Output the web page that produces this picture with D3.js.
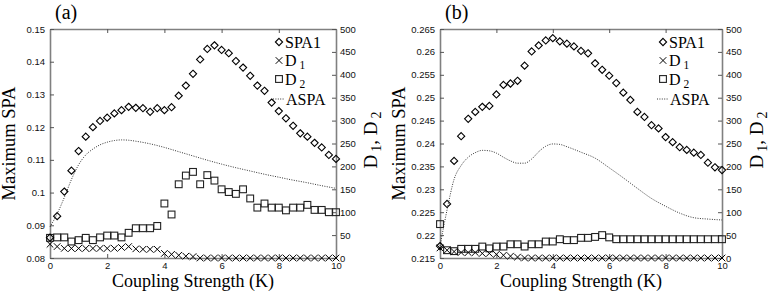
<!DOCTYPE html>
<html>
<head>
<meta charset="utf-8">
<script src="https://cdn.jsdelivr.net/npm/d3@7"></script>
<style>
  body { margin: 0; background: #fff; }
</style>
</head>
<body>
<svg id="chart"></svg>
<script>
const width = 772, height = 292;
const svg = d3.select("#chart").attr("width", width).attr("height", height);

// coupling strength samples (K)
const couplingK = [0,0.25,0.5,0.75,1,1.25,1.5,1.75,2,2.25,2.5,2.75,3,3.25,3.5,3.75,4,4.25,4.5,4.75,
  5,5.25,5.5,5.75,6,6.25,6.5,6.75,7,7.25,7.5,7.75,8,8.25,8.5,8.75,9,9.25,9.5,9.75,10];

// panel (a)
const spaA = [0.0862,0.0928,0.1003,0.1067,0.1127,0.1171,0.1200,0.1219,0.1229,0.1242,0.1252,0.1262,0.1259,0.1258,0.1247,
  0.1258,0.1252,0.1261,0.1296,0.1327,0.1363,0.1407,0.1439,0.1450,0.1436,0.1426,0.1402,0.1382,0.1357,0.1327,
  0.1311,0.1275,0.1249,0.1227,0.1204,0.1181,0.1171,0.1152,0.1138,0.1115,0.1103];
const d1A = [30,25,21,21,21,21,21,21,21,21,23,25,20,19,19,19,10,8,6,4,3,
  0,0,0,0,0,0,0,0,0,0,0,0,0,0,0,0,0,0,0,0];
const d2A = [44,45,45,36,39,44,39,45,49,49,45,55,65,65,65,70,119,95,161,180,188,161,181,169,150,144,140,150,130,110,
  119,110,110,104,110,110,116,105,105,100,100];
const aspaKA = [0,0.25,0.5,0.75,1,1.25,1.5,1.75,2,2.25,2.5,2.75,3,3.5,4,4.5,5,5.5,6,6.5,7,7.5,8,8.5,9,9.5,10];
const aspaA = [0.0895,0.0935,0.0985,0.1040,0.1085,0.1115,0.1133,0.1146,0.1154,0.1159,0.1161,0.1160,0.1157,
  0.1149,0.1138,0.1125,0.1112,0.1099,0.1087,0.1076,0.1066,0.1056,0.1047,0.1038,0.1030,0.1021,0.1013];

// panel (b)
const spaB = [0.2176,0.2268,0.2362,0.2416,0.2454,0.2469,0.2480,0.2482,0.2507,0.2528,0.2531,0.2537,0.2570,0.2601,0.2614,
  0.2625,0.2630,0.2623,0.2618,0.2612,0.2602,0.2597,0.2575,0.2561,0.2548,0.2532,0.2511,0.2495,0.2469,0.2458,
  0.2440,0.2433,0.2414,0.2403,0.2392,0.2386,0.2380,0.2375,0.2358,0.2348,0.2342];
const d1B = [22,17,14,12,12,12,10,10,8,6,4,2,
  0,0,0,0,0,0,0,0,0,0,0,0,0,0,0,0,0,0,0,0,0,0,0,0,0,0,0,0,0];
const d2B = [74,17,15,20,20,20,25,21,25,25,30,30,25,30,30,36,36,41,39,39,44,44,46,50,45,
  41,41,41,41,41,41,41,41,41,41,41,41,41,41,41,41];
const aspaKB = [0,0.25,0.5,0.75,1,1.25,1.5,1.75,2,2.25,2.5,2.75,3,3.25,3.5,3.75,4,4.25,4.5,5,5.5,6,6.5,7,7.5,8,8.5,9,9.5,10];
const aspaB = [0.2176,0.2255,0.2322,0.2352,0.2370,0.2380,0.2385,0.2384,0.2379,0.2370,0.2362,0.2357,0.2357,0.2366,0.2382,
  0.2394,0.2399,0.2398,0.2393,0.2381,0.2368,0.2347,0.2325,0.2302,0.2280,0.2263,0.2248,0.2238,0.2235,0.2233];

// tick labels
const xTicks = [0,2,4,6,8,10];
const leftTicksA = [0.08,0.09,0.1,0.11,0.12,0.13,0.14,0.15];
const leftTicksB = [0.215,0.22,0.225,0.23,0.235,0.24,0.245,0.25,0.255,0.26,0.265];
const rightTicks = [0,50,100,150,200,250,300,350,400,450,500];

const serif = "'Liberation Serif','Times New Roman',serif";
const sans = "'Liberation Sans',Arial,sans-serif";
const plotTop = 29, plotBottom = 258;

function marker(g, type, cx, cy) {
  if (type === "diamond") {
    g.append("path")
      .attr("d", `M${cx},${cy-3.6}L${cx+3.6},${cy}L${cx},${cy+3.6}L${cx-3.6},${cy}Z`)
      .attr("fill", "none").attr("stroke", "#000").attr("stroke-width", 1.1);
  } else if (type === "square") {
    g.append("rect")
      .attr("x", cx-3.4).attr("y", cy-3.4).attr("width", 6.8).attr("height", 6.8)
      .attr("fill", "none").attr("stroke", "#222").attr("stroke-width", 1.1);
  } else {
    g.append("path")
      .attr("d", `M${cx-3.3},${cy-3.3}L${cx+3.3},${cy+3.3}M${cx-3.3},${cy+3.3}L${cx+3.3},${cy-3.3}`)
      .attr("stroke", "#000").attr("stroke-width", 1);
  }
}

function drawPanel(p) {
  const g = svg.append("g");
  const x = d3.scaleLinear().domain([0, 10]).range([p.x0, p.x1]);
  const yL = d3.scaleLinear().domain(p.leftDomain).range([plotBottom, plotTop]);
  const yR = d3.scaleLinear().domain([0, 500]).range([plotBottom, plotTop]);

  // axes (inward ticks)
  const fmt = d => String(+d.toFixed(3));
  const axes = [
    g.append("g").attr("transform", `translate(0,${plotBottom})`)
      .call(d3.axisBottom(x).tickValues(xTicks).tickSize(-4).tickSizeOuter(0).tickPadding(4)),
    g.append("g").attr("transform", `translate(0,${plotTop})`)
      .call(d3.axisTop(x).tickValues(xTicks).tickSize(-4).tickSizeOuter(0).tickFormat("")),
    g.append("g").attr("transform", `translate(${p.x0},0)`)
      .call(d3.axisLeft(yL).tickValues(p.leftTicks).tickSize(-4).tickSizeOuter(0).tickPadding(5).tickFormat(fmt)),
    g.append("g").attr("transform", `translate(${p.x1},0)`)
      .call(d3.axisRight(yR).tickValues(rightTicks).tickSize(-4).tickSizeOuter(0).tickPadding(4))
  ];
  axes.forEach(a => {
    a.select(".domain").attr("stroke", "#808080").attr("stroke-width", 1.6);
    a.selectAll(".tick line").attr("stroke", "#555").attr("stroke-width", 1);
    a.selectAll(".tick text").attr("font-family", sans).attr("font-size", 9.5).attr("fill", "#111");
  });

  // ASPA dotted line
  g.append("path")
    .datum(p.aspaK.map((k, i) => [k, p.aspa[i]]))
    .attr("d", d3.line().x(d => x(d[0])).y(d => yL(d[1])).curve(d3.curveMonotoneX))
    .attr("fill", "none").attr("stroke", "#333").attr("stroke-width", 1)
    .attr("stroke-dasharray", "1,1.4");

  // markers
  couplingK.forEach((k, i) => marker(g, "square", x(k), yR(p.d2[i])));
  couplingK.forEach((k, i) => marker(g, "cross", x(k), yR(p.d1[i])));
  couplingK.forEach((k, i) => marker(g, "diamond", x(k), yL(p.spa[i])));

  // legend
  const lg = g.append("g");
  const rows = [
    { type: "diamond", y: 42, label: ["SPA1"] },
    { type: "cross", y: 60.5, label: ["D", "1"] },
    { type: "square", y: 79, label: ["D", "2"] },
    { type: "line", y: 99, label: ["ASPA"] }
  ];
  rows.forEach(r => {
    if (r.type === "line") {
      lg.append("line").attr("x1", p.legX - 6).attr("x2", p.legX + 6)
        .attr("y1", r.y).attr("y2", r.y)
        .attr("stroke", "#333").attr("stroke-dasharray", "1,1.4");
    } else {
      marker(lg, r.type, p.legX, r.y);
    }
    const t = lg.append("text")
      .attr("x", r.type === "line" ? p.legX + 7 : p.legX + 6)
      .attr("y", r.y + 5.5)
      .attr("font-family", serif).attr("font-size", 16).attr("fill", "#000");
    t.append("tspan").text(r.label[0]);
    if (r.label[1]) t.append("tspan").attr("dx", 3).attr("dy", 3).attr("font-size", 11.5).text(r.label[1]);
  });

  // panel title
  g.append("text").attr("x", p.x0 + 5).attr("y", 19)
    .attr("font-family", serif).attr("font-size", 20).text(p.title);

  // axis labels
  g.append("text")
    .attr("transform", `translate(${p.x0 - 35},${(plotTop + plotBottom) / 2}) rotate(-90)`)
    .attr("text-anchor", "middle")
    .attr("font-family", serif).attr("font-size", 18.5).text("Maximum SPA");

  g.append("text")
    .attr("x", (p.x0 + p.x1) / 2).attr("y", 287)
    .attr("text-anchor", "middle")
    .attr("font-family", serif).attr("font-size", 18).text("Coupling Strength (K)");

  const rl = g.append("text")
    .attr("transform", `translate(${p.x1 + 41},140) rotate(-90)`)
    .attr("text-anchor", "middle")
    .attr("font-family", serif).attr("font-size", 19);
  rl.append("tspan").text("D");
  rl.append("tspan").attr("dx", 3).attr("dy", 4).attr("font-size", 14).text("1");
  rl.append("tspan").attr("dy", -4).text(", D");
  rl.append("tspan").attr("dx", 3).attr("dy", 4).attr("font-size", 14).text("2");
}

drawPanel({
  title: "(a)", x0: 50, x1: 336, leftDomain: [0.08, 0.15], leftTicks: leftTicksA,
  spa: spaA, d1: d1A, d2: d2A, aspaK: aspaKA, aspa: aspaA, legX: 279
});
drawPanel({
  title: "(b)", x0: 440, x1: 722, leftDomain: [0.215, 0.265], leftTicks: leftTicksB,
  spa: spaB, d1: d1B, d2: d2B, aspaK: aspaKB, aspa: aspaB, legX: 663
});
</script>
</body>
</html>
